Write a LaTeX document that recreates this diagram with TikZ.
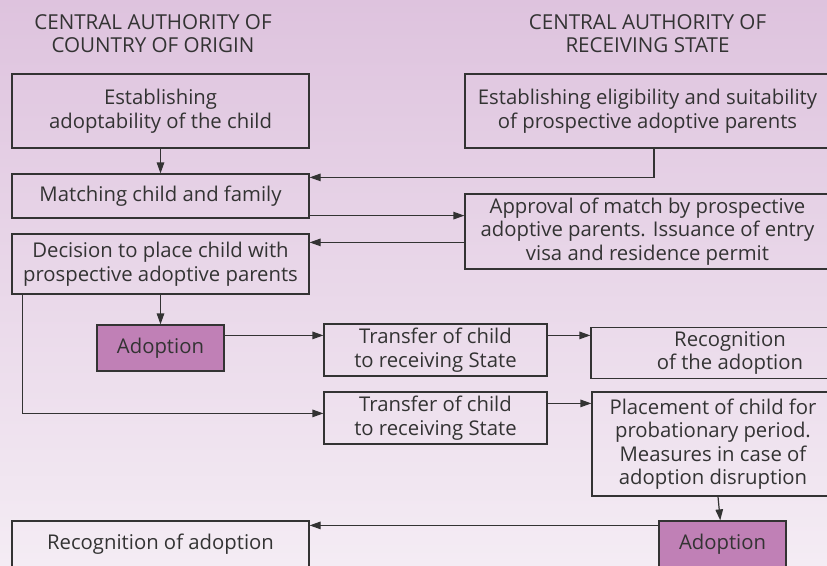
\documentclass[tikz,border=0pt]{standalone}
\usepackage{fontspec}
\setmainfont{Open Sans}
\usetikzlibrary{positioning, arrows.meta}
\definecolor{bgtop}{HTML}{DEC3DE}
\definecolor{bgbottom}{HTML}{F4ECF4}
\definecolor{adoptfill}{HTML}{C080B6}
\definecolor{ink}{HTML}{333333}

\begin{document}
\begin{tikzpicture}[x=1pt, y=-1pt,
    head/.style={text=ink, align=center, inner sep=0pt, font=\fontsize{20.6}{23}\selectfont},
    box/.style={draw=ink, line width=1.2pt, text=ink, align=center, inner sep=0pt, font=\fontsize{20.3}{23.5}\selectfont},
    adopt/.style={box, fill=adoptfill},
    arr/.style={draw=ink, line width=1.2pt, -{Triangle[length=11pt, width=7.5pt]}}]
    \useasboundingbox (0,0) rectangle (827,565);
    \clip (0,0) rectangle (827,565);
    \shade[top color=bgtop, bottom color=bgbottom] (0,0) rectangle (827,565);

    % column titles
    \node[head] (origin) at (153,33.5) {CENTRAL AUTHORITY OF\\COUNTRY OF ORIGIN};
    \node[head] (receiving) at (647.5,33.5) {CENTRAL AUTHORITY OF\\RECEIVING STATE};

    % country of origin
    \node[box, minimum width=297pt, minimum height=74pt] (adoptability) at (160.5,111) {Establishing\\adoptability of the child};
    \node[box, minimum width=297pt, minimum height=44pt] (matching) at (160.5,196) {Matching child and family};
    \node[box, minimum width=297pt, minimum height=60pt] (decision) at (160.5,264) {Decision to place child with\\prospective adoptive parents};
    \node[adopt, minimum width=127pt, minimum height=46pt] (adoptA) at (160.5,348) {Adoption};
    \node[box, minimum width=223pt, minimum height=52pt] (transferA) at (435.5,350) {Transfer of child\\to receiving State};
    \node[box, minimum width=223pt, minimum height=52pt] (transferB) at (435.5,418) {Transfer of child\\to receiving State};
    \node[box, minimum width=297pt, minimum height=46pt] (recogB) at (160.5,544) {Recognition of adoption};

    % receiving state
    \node[box, minimum width=365pt, minimum height=74pt] (eligibility) at (647.5,111) {Establishing eligibility and suitability\\of prospective adoptive parents};
    \node[box, minimum width=365pt, minimum height=75pt] (approval) at (647.5,231.5) {Approval of match by prospective\\adoptive parents. Issuance of entry\\visa and residence permit};
    \node[box, minimum width=278pt, minimum height=51pt] (recogA) at (730,353) {Recognition\\of the adoption};
    \node[box, minimum width=242pt, minimum height=104pt] (placement) at (713,444) {Placement of child for\\probationary period.\\Measures in case of\\adoption disruption};
    \node[adopt, minimum width=127pt, minimum height=46pt] (adoptB) at (722.5,544) {Adoption};

    % connector ends
    \coordinate (eligOut) at ([xshift=6.5pt]eligibility.south);
    \coordinate (matchIn) at ([yshift=-4pt]matching.north east);
    \coordinate (matchOut) at ([yshift=3pt]matching.south east);
    \coordinate (decIn) at ([yshift=-9pt]decision.north east);
    \coordinate (adoptOut) at ([yshift=-11pt]adoptA.north east);
    \coordinate (decOut) at ([xshift=11pt]decision.south west);
    \coordinate (transIn) at ([yshift=-22pt]transferB.north west);
    \coordinate (transOut) at ([yshift=-12pt]transferB.north east);
    \coordinate (adoptBOut) at ([yshift=-5pt]adoptB.north west);

    \draw[arr] (adoptability) -- (matching);
    \draw[arr] (eligOut) |- (matchIn);
    \draw[arr] (matchOut) -- (matchOut -| approval.west);
    \draw[arr] (decIn -| approval.west) -- (decIn);
    \draw[arr] (decision) -- (adoptA);
    \draw[arr] (adoptOut) -- (adoptOut -| transferA.west);
    \draw[arr] (adoptOut -| transferA.east) -- (adoptOut -| recogA.west);
    \draw[arr] (decOut) |- (transIn);
    \draw[arr] (transOut) -- (transOut -| placement.west);
    \draw[arr] (placement) -- (adoptB);
    \draw[arr] (adoptBOut) -- (adoptBOut -| recogB.east);
\end{tikzpicture}
\end{document}
